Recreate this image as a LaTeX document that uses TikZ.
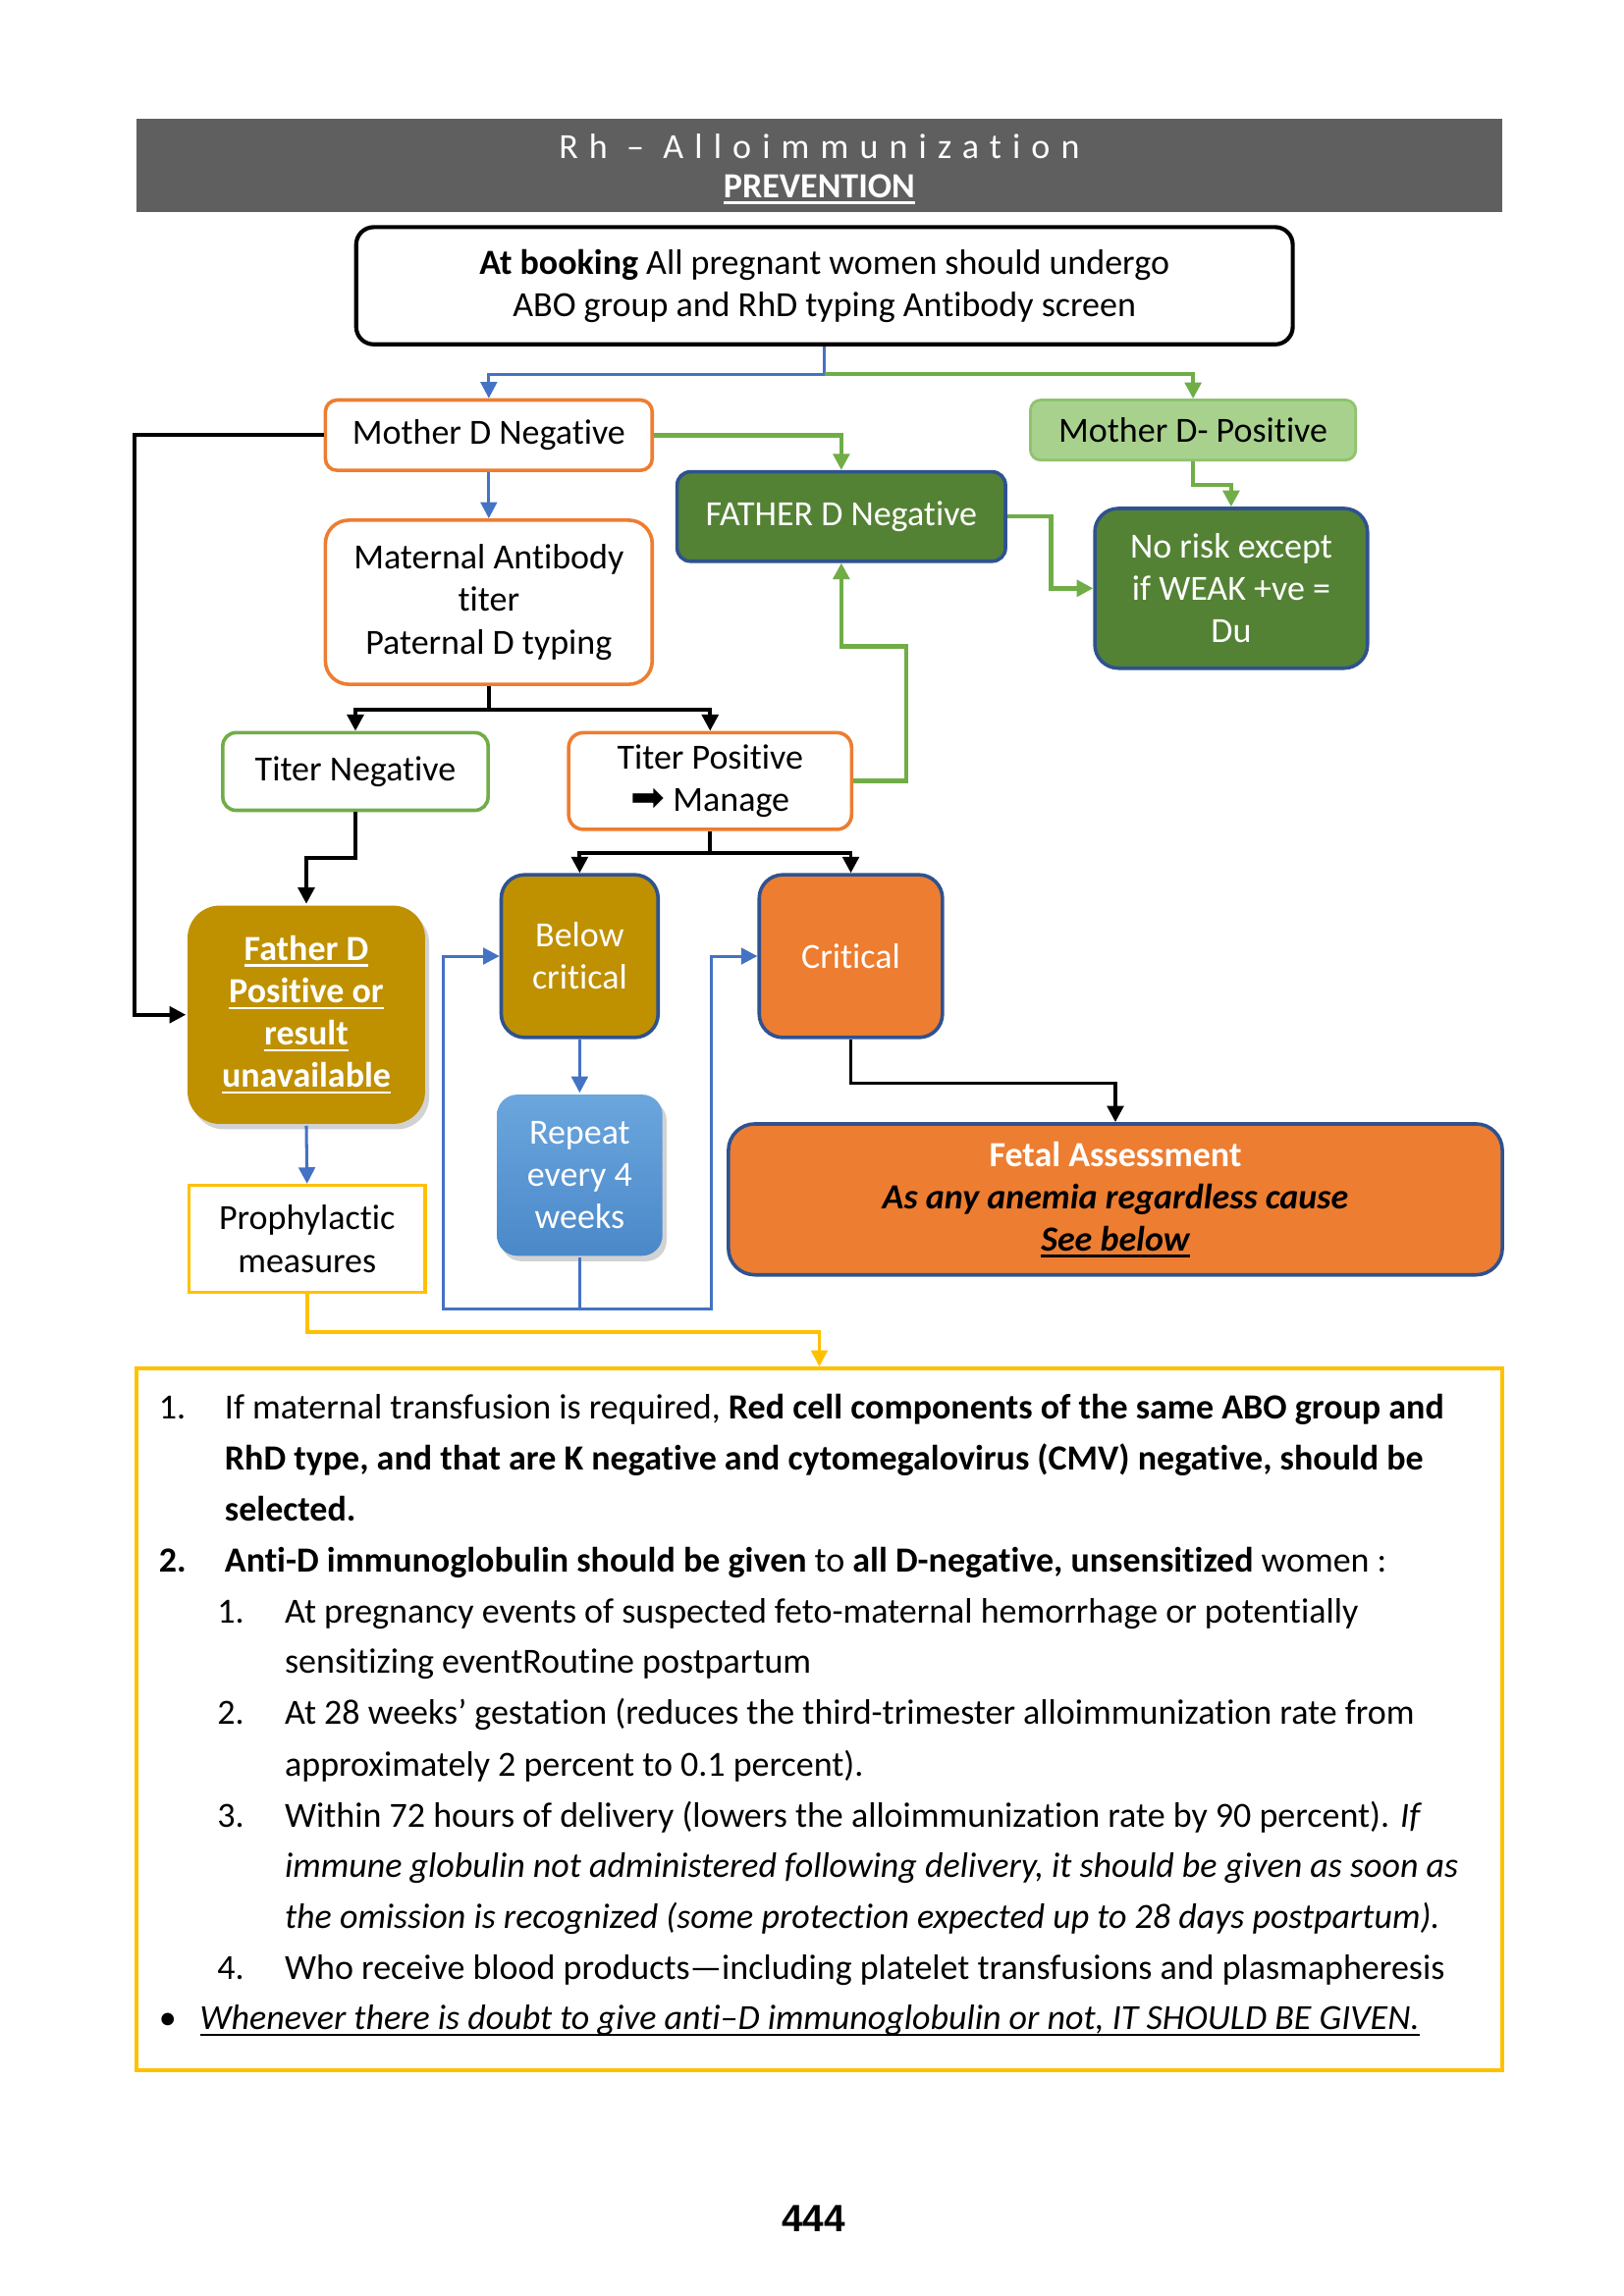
\documentclass[tikz,border=0pt]{standalone}
\usepackage{fontspec}
\setmainfont{Carlito}[Ligatures={TeX,NoCommon}]
\newfontfamily\arialfont{Liberation Sans}
\newfontfamily\dejavu{DejaVu Sans}
\usetikzlibrary{arrows.meta,shadows,calc}
\definecolor{cgray}{HTML}{5F5F5F}
\definecolor{corange}{HTML}{ED7D31}
\definecolor{cgreen}{HTML}{70AD47}
\definecolor{dgreen}{HTML}{548235}
\definecolor{lgreen}{HTML}{A9D18E}
\definecolor{lgreenb}{HTML}{8FC36E}
\definecolor{navy}{HTML}{2F528F}
\definecolor{gold}{HTML}{BF9000}
\definecolor{cyellow}{HTML}{FFC000}
\definecolor{cblue}{HTML}{4472C4}
\definecolor{blueT}{HTML}{6BA6DD}
\definecolor{blueB}{HTML}{4A88C9}
\newlength\pu
\setlength\pu{0.018953cm}
\newcommand\myul[1]{\setbox0\hbox{#1}\rlap{\rule[-2.3pt]{\wd0}{0.85pt}}\box0}
\newcommand\nodefont{\fontsize{13}{15.6}\selectfont}
\newcommand\bodyfont{\fontsize{13}{15.6}\selectfont}
\tikzset{
  sz/.style 2 args={minimum width=#1\pu, minimum height=#2\pu},
  bx/.style={inner sep=0pt, align=center, font=\nodefont, line width=1.3pt},
  wbox/.style={bx, fill=white},
  bl/.style={anchor=base west, inner sep=0pt, font=\bodyfont},
  blk/.style={draw=black, line width=1.4pt, -{Triangle[length=6pt,width=6pt]}},
  blu/.style={draw=cblue, line width=1.1pt, -{Triangle[length=6pt,width=6pt]}},
  bluline/.style={draw=cblue, line width=1.1pt},
  grn/.style={draw=cgreen, line width=1.6pt, -{Triangle[length=6pt,width=6pt]}},
  yel/.style={draw=cyellow, line width=1.3pt, -{Triangle[length=6pt,width=6pt]}},
  shd/.style={drop shadow={shadow xshift=1.5pt, shadow yshift=-2pt, opacity=0.35}}
}
\begin{document}
\begin{tikzpicture}[x=0.018953cm,y=-0.018953cm]
\useasboundingbox (0,0) rectangle (1108,1566.9);
\fill[white] (0,0) rectangle (1108,1566.9);
% header
\node[fill=cgray, sz={932}{64}, inner sep=0pt] (hdr) at (559,113) {};
\node[text=white, inner sep=0pt, font=\fontsize{13}{15}\selectfont\addfontfeature{LetterSpace=31}] (ttl) at (559,100) {Rh – Alloimmunization};
\node[text=white, inner sep=0pt, font=\fontsize{13}{15}\selectfont\bfseries] (prev) at (559,129) {\myul{PREVENTION}};
% boxes
\node[wbox, draw=black, line width=1.5pt, sz={639}{80}, rounded corners=12\pu] (book) at (562.5,195)
  {\textbf{At booking} All pregnant women should undergo\\ABO group and RhD typing Antibody screen};
\node[wbox, draw=corange, sz={223}{48}, rounded corners=8\pu] (mdn) at (333.5,297) {Mother D Negative};
\node[bx, fill=lgreen, draw=lgreenb, line width=1pt, sz={222}{41}, rounded corners=7\pu] (mdp) at (814,293.5) {Mother D- Positive};
\node[bx, fill=dgreen, draw=navy, text=white, sz={224}{61}, rounded corners=9\pu] (fdn) at (574,352.5) {FATHER D Negative};
\node[bx, fill=dgreen, draw=navy, text=white, sz={186}{109}, rounded corners=16\pu] (nr) at (840,401.5) {No risk except\\if WEAK +ve =\\Du};
\node[wbox, draw=corange, sz={223}{112}, rounded corners=16\pu] (mat) at (333.5,411) {Maternal Antibody\\titer\\Paternal D typing};
\node[wbox, draw=cgreen, sz={181}{53}, rounded corners=9\pu] (tn) at (242.5,526.5) {Titer Negative};
\node[wbox, draw=corange, sz={193}{66}, rounded corners=10\pu] (tp) at (484.5,533) {Titer Positive\\{\dejavu\fontsize{15}{12}\selectfont ➡}\ Manage};
\node[bx, fill=gold, text=white, sz={162}{149}, rounded corners=22\pu, shd, font=\nodefont\bfseries] (fdp) at (209,692.5)
  {\myul{Father D}\\\myul{Positive or}\\\myul{result}\\\myul{unavailable}};
\node[bx, fill=gold, draw=navy, text=white, sz={107}{111}, rounded corners=16\pu] (bc) at (395.5,652.5) {Below\\critical};
\node[bx, fill=corange, draw=navy, text=white, sz={125}{111}, rounded corners=16\pu] (cr) at (580.5,652.5) {Critical};
\node[bx, top color=blueT, bottom color=blueB, draw=none, text=white, sz={113}{110}, rounded corners=14\pu, shd] (rp) at (395.5,802) {Repeat\\every 4\\weeks};
\node[bx, fill=corange, draw=navy, sz={528}{103}, rounded corners=18\pu] (fa) at (761,818.5)
  {\textcolor{white}{\textbf{Fetal Assessment}}\\\textbf{\textit{As any anemia regardless cause}}\\\textbf{\textit{\myul{See below}}}};
\node[wbox, draw=cyellow, sz={161}{73}] (pm) at (209.5,845.5) {Prophylactic\\measures};
\node[bx, draw=cyellow, line width=1.5pt, sz={932}{479}] (tb) at (559,1173.5) {};
% connectors
\draw[blu] (book.south) -- ++(0,19) -| (mdn.north);
\draw[grn] ($(book.south)+(0,19)$) -| (mdp.north);
\draw[blu] (mdn.south) -- (mat.north);
\draw[grn] (mdn.east) -| (fdn.north);
\draw[blk] (mdn.west) -- ++(-129,0) |- (fdp.west);
\draw[grn] (mdp.south) -- ++(0,16) -| (nr.north);
\draw[grn] (fdn.east) -- ++(30,0) |- (nr.west);
\draw[grn] (tp.east) -- ++(36,0) -- ++(0,-92) -| (fdn.south);
\draw[draw=black, line width=1.4pt] (mat.south) -- ++(0,16) coordinate (j1);
\draw[blk] (j1) -| (tn.north);
\draw[blk] (j1) -| (tp.north);
\draw[blk] (tn.south) -- ++(0,31) -| (fdp.north);
\draw[draw=black, line width=1.4pt] (tp.south) -- ++(0,15) coordinate (j2);
\draw[blk] (j2) -| (bc.north);
\draw[blk] (j2) -| (cr.north);
\draw[blk] (cr.south) -- ++(0,30) -| (fa.north);
\draw[blu] (bc.south) -- (rp.north);
\draw[bluline] (rp.south) -- ++(0,35) coordinate (j3);
\draw[blu] (j3) -- ++(-93,0) |- (bc.west);
\draw[blu] (j3) -- ++(90,0) |- (cr.west);
\draw[blu] (fdp.south) -- (pm.north);
\draw[yel] (pm.south) -- ++(0,26) -| (tb.north);
% body text
\node[bl] (n1) at (108,968) {1.};
\node[bl] (t1) at (153,968) {If maternal transfusion is required, \textbf{Red cell components of the same ABO group and}};
\node[bl] (t2) at (153,1003) {\textbf{RhD type, and that are K negative and cytomegalovirus (CMV) negative, should be}};
\node[bl] (t3) at (153,1038) {\textbf{selected.}};
\node[bl] (n2) at (108,1073) {\textbf{2.}};
\node[bl] (t4) at (153,1073) {\textbf{Anti-D immunoglobulin should be given} to \textbf{all D-negative, unsensitized} women :};
\node[bl] (n21) at (148,1108) {1.};
\node[bl] (t5) at (194,1108) {At pregnancy events of suspected feto-maternal hemorrhage or potentially};
\node[bl] (t6) at (194,1142) {sensitizing eventRoutine postpartum};
\node[bl] (n22) at (148,1177) {2.};
\node[bl] (t7) at (194,1177) {At 28 weeks’ gestation (reduces the third-trimester alloimmunization rate from};
\node[bl] (t8) at (194,1212) {approximately 2 percent to 0.1 percent).};
\node[bl] (n23) at (148,1247) {3.};
\node[bl] (t9) at (194,1247) {Within 72 hours of delivery (lowers the alloimmunization rate by 90 percent). \textit{If}};
\node[bl] (t10) at (194,1281) {\textit{immune globulin not administered following delivery, it should be given as soon as}};
\node[bl] (t11) at (194,1316) {\textit{the omission is recognized (some protection expected up to 28 days postpartum).}};
\node[bl] (n24) at (148,1351) {4.};
\node[bl] (t12) at (194,1351) {Who receive blood products—including platelet transfusions and plasmapheresis};
\node[bl] (bu) at (108,1385) {•};
\node[bl] (t13) at (136,1385) {\textit{\myul{Whenever there is doubt to give anti–D immunoglobulin or not, IT SHOULD BE GIVEN.}}};
% page number
\node[anchor=base, inner sep=0pt, font=\arialfont\bfseries\fontsize{14}{16}\selectfont] (pg) at (555,1523) {444};
\end{tikzpicture}
\end{document}
